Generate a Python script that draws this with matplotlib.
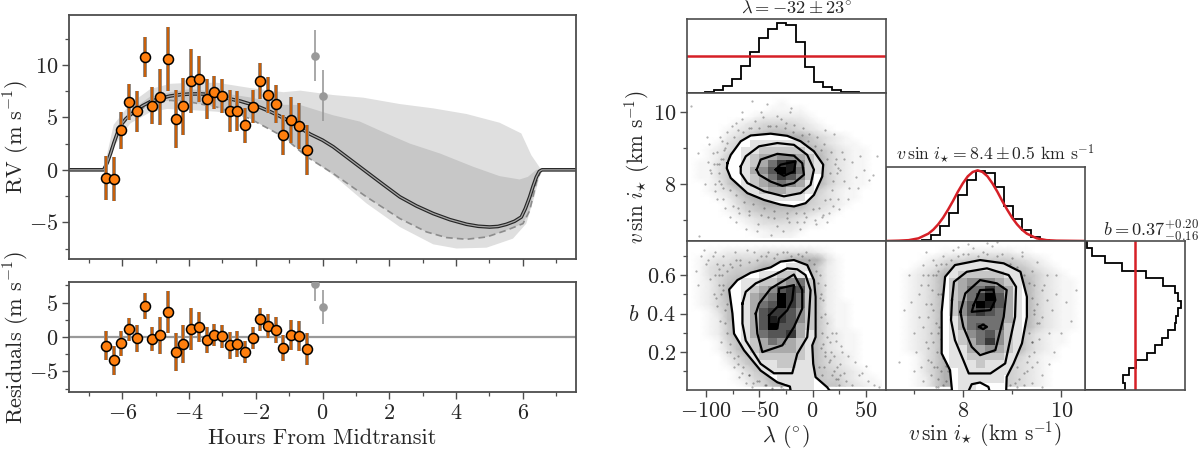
import numpy as np
import matplotlib
matplotlib.use("Agg")
import matplotlib.pyplot as plt
from matplotlib.patches import Polygon
from matplotlib.ticker import MultipleLocator

plt.rcParams['font.family'] = ['cmr10', 'DejaVu Sans']
plt.rcParams['mathtext.fontset'] = 'cm'
plt.rcParams['axes.formatter.use_mathtext'] = True
plt.rcParams['axes.unicode_minus'] = True

# RV data
hours = [-6.49,-6.26,-6.03,-5.79,-5.56,-5.32,-5.10,-4.88,-4.64,-4.40,-4.17,-3.93,-3.70,-3.47,-3.24,-3.01,-2.78,-2.55,-2.32,-2.09,-1.86,-1.63,-1.39,-1.17,-0.94,-0.70,-0.47]
rv = [-0.80,-0.89,3.76,6.46,5.60,10.73,6.11,6.94,10.60,4.87,6.05,8.44,8.69,6.75,7.39,7.04,5.64,5.64,4.24,6.02,8.50,7.13,6.27,3.34,4.75,4.20,1.88]
rv_err = [2.1,2.1,1.8,1.7,1.95,1.9,1.75,2.7,3.05,2.75,2.75,3.05,2.2,1.9,1.6,1.65,2.0,1.9,1.65,1.6,1.7,1.75,1.85,1.9,2.2,2.2,2.35]
resid = [-1.25,-3.37,-0.91,1.10,-0.20,4.57,-0.34,0.24,3.70,-2.20,-1.06,1.20,1.49,-0.38,0.29,0.10,-1.20,-1.00,-2.20,-0.20,2.55,1.59,1.00,-1.60,0.29,0.14,-1.78]
gray_hours = [-0.23, 0.0]
gray_rv = [10.89, 7.07]
gray_err = [2.45, 2.45]
gray_resid = [7.64, 4.37]

model_x = [-7.6,-6.56,-6.45,-6.35,-6.25,-6.15,-6.05,-5.9,-5.76,-5.6,-5.4,-5.16,-4.86,-4.56,-4.26,-3.96,-3.66,-3.36,-3.06,-2.76,-2.46,-2.17,-1.87,-1.57,-1.27,-0.97,-0.67,-0.37,0,0.32,0.82,1.32,1.82,2.32,2.82,3.32,3.82,4.32,4.67,5.01,5.26,5.51,5.76,5.96,6.08,6.21,6.31,6.41,6.5,6.58,7.6]
model_y = [0,0,0.7,1.6,2.6,3.5,4.25,4.85,5.25,5.65,6.1,6.5,6.82,7.04,7.17,7.23,7.24,7.17,7.0,6.75,6.55,6.27,5.95,5.55,5.1,4.6,4.0,3.4,2.83,2.2,1.0,-0.2,-1.4,-2.58,-3.45,-4.17,-4.75,-5.19,-5.38,-5.45,-5.4,-5.2,-4.9,-4.5,-3.7,-2.6,-1.6,-0.7,-0.15,0,0]

light_up_x = [-6.56,-6.26,-5.76,-5.16,-4.56,-3.96,-3.16,-2.17,-1.17,-0.67,0.32,1.22,2.32,3.32,4.32,5.31,5.96,6.26,6.56]
light_up_y = [0,4.3,6.3,7.7,8.2,8.3,8.3,7.8,7.4,7.55,7.13,6.88,6.27,5.86,5.32,4.49,3.47,1.4,0]
light_lo_x = [6.56,6.35,6.11,5.71,4.92,4.02,3.32,2.32,1.32,0.32,-0.47,-1.17,-2.17,-3.16,-3.96,-4.66,-5.16,-5.76,-6.26,-6.56]
light_lo_y = [0,-2.6,-5.13,-6.56,-7.42,-7.5,-7.1,-5.45,-3.2,-0.5,1.3,3.63,5.06,5.54,5.7,5.8,5.5,4.43,2.2,0]
dark_up_x = [-6.56,-6.11,-5.76,-5.16,-4.56,-3.96,-3.16,-2.17,-1.17,-0.67,0.32,1.12,1.82,2.62,3.52,4.52,5.31,5.91,6.16,6.41,6.56]
dark_up_y = [0,4.2,5.6,7.0,7.4,7.7,7.4,6.9,6.2,6.18,5.2,4.6,3.6,2.5,1.56,0.29,-0.6,-0.92,-0.67,0,0]
dashed_x = [6.56,6.41,6.21,6.01,5.51,4.92,4.32,3.72,3.12,2.32,1.32,0.32,-0.47,-1.17,-2.17,-3.16,-3.96,-4.56,-5.16,-5.76,-6.11,-6.56]
dashed_y = [0,-1.2,-3.9,-5.13,-5.77,-6.4,-6.62,-6.46,-5.92,-4.65,-2.58,-0.35,1.24,3.15,4.87,5.98,6.46,6.62,6.3,5.2,3.95,0]

# posterior histograms (heights read in picture units)
lam_hist = [0,1,3,8,21,43,81,124,165,193,212,205,154,77,32,17,9,4,2,1,1,0]
vsini_hist = [0,0,0,0,4,17,44,84,138,182,210,204,162,105,66,34,12,4,1,0,0,0]
b_hist_top_down = [6,21,59,112,182,232,269,277,286,277,271,269,247,229,209,184,152,132,114,120]
lam_prior = 111
b_prior = 150
prior_x = [6.44,6.7,6.9,7.1,7.3,7.4,7.5,7.6,7.7,7.8,7.9,8.0,8.1,8.2,8.3,8.4,8.5,8.6,8.7,8.8,8.9,9.0,9.1,9.2,9.3,9.5,9.7,9.9,10.48]
prior_y = [0,1,2.5,8,22,34,50,70,94,120,148,173,194,207,212,207,194,173,148,120,94,70,50,34,22,8,2.5,1,0]

lam_lim = (-118, 69)
vsini_ylim = (6.42, 10.53)
vsini_xlim = (6.44, 10.48)
b_lim = (0.003, 0.777)

# 2D histogram cells, digit = darkness, rows from top to bottom
lam_v_cells = [
"0","0","0","0","0","0","0",
"0000000111111",
"00000011222221",
"000000123344321",
"000000123578421",
"000000134698521",
"00000012357642",
"00000012345431",
"00000011233221",
"0000000111111",
"0","0","0","0","0","0"]
lam_v_halo = [
"0000000000000000000000",
"0000000000100000000000",
"0000000001111000000000",
"0000000122222100000000",
"0000012344443210000000",
"0000123456654321000000",
"0000235688888643210000",
"0001346888888653211000",
"0012358888888865321100",
"0012588888888885321100",
"0113588888888885321100",
"0113588888888885321100",
"0113588888888885321100",
"0012588888888885321100",
"0012358888888853211000",
"0001246888888643211000",
"0000135688888543210000",
"0000124566665432100000",
"0000012345543211000000",
"0000001233332110000000",
"0000000112221000000000",
"0000000011110000000000"]
lam_b_cells = [
"0","0","0",
"000000000001110",
"00000000112210",
"00000011223452",
"00000012346762",
"00000013459752",
"00000013569752",
"00000013677642",
"00000013687642",
"00000013696632",
"00000013566731",
"00000012354321",
"00000012333321",
"00000011222221",
"00000001112211",
"00000000111111",
"00000000001111",
"00000000000111"]
lam_b_halo = [
"0000000000000000000000",
"0011222233333321000000",
"0123344455688883100000",
"0134455688888852100000",
"0134566888888852100000",
"0124678888888852100000",
"0124788888888862100000",
"0124788888888862100000",
"0124688888888862110000",
"0013688888888862110000",
"0012688888888863110000",
"0012588888888863110000",
"0012588888888863211000",
"0001468888888863211000",
"0001368888888863211000",
"0000246888888864321000",
"0000135788888864321000",
"0000013568888865432100",
"0000012458888865532110",
"0000001346888886643211"]
v_b_cells = [
"0","0",
"000000001111100",
"000000111111111",
"000000012222211",
"000000023444321",
"000000023557531",
"000000023579631",
"000000024698631",
"000000024676531",
"000000013555531",
"000000013565521",
"000000012456421",
"000000012357421",
"000000011334321",
"000000011222211",
"000000011121111",
"000000001111110",
"000000001111100",
"000000001100000"]
v_b_halo = [
"0000000000000000000000",
"0000001112222211000000",
"0000123445555543210000",
"0001235688888865321000",
"0012358888888886532100",
"0012358888888888532110",
"0012358888888888532110",
"0012358888888888532110",
"0012358888888888532110",
"0012358888888888532110",
"0012358888888888532110",
"0012358888888888532110",
"0012358888888885321100",
"0012358888888885321100",
"0012358888888885321000",
"0001358888888853211000",
"0001358888888643210000",
"0001358888888543210000",
"0001258888888543210000",
"0001258888888543210000"]

# contours, outer to inner
lv_outer_x = [-80,-76.9,-67.5,-58.1,-39.4,-23.8,-11.3,1.3,10,9.1,1.3,-6.6,-17.5,-30,-45.6,-61.3,-76.9,-80.6]
lv_outer_y = [8.58,8.81,9.19,9.35,9.40,9.34,9.19,8.91,8.54,8.21,7.70,7.47,7.38,7.43,7.56,7.75,8.17,8.44]
lv_mid_x = [-67.5,-62.8,-50.3,-33.1,-17.5,-5,1.3,-1.9,-11.3,-26.9,-45.6,-61.3,-67.5]
lv_mid_y = [8.49,8.77,9.05,9.14,9.09,8.81,8.40,7.98,7.75,7.66,7.80,8.03,8.30]
lv_in_x = [-52.5,-48.8,-33.1,-17.5,-9.7,-8.1,-17.5,-28.4,-39.4,-50.3]
lv_in_y = [8.40,8.68,8.84,8.79,8.58,8.26,8.03,7.95,8.07,8.26]
lv_core_x = [-34.7,-30,-15.9,-17.5,-26.9,-31.6]
lv_core_y = [8.40,8.54,8.63,8.35,8.23,8.31]

lb_outer_x = [16,13.8,2.8,0.6,-0.3,2.8,2.8,1.3,-5,-17.5,-30,-39.4,-58.1,-70.6,-78.4,-75.3,-73.8,-64.4,-48.8,-33.1,-21.3,-20.6]
lb_outer_y = [0,0.017,0.07,0.139,0.235,0.278,0.487,0.574,0.652,0.678,0.67,0.64,0.612,0.574,0.525,0.40,0.296,0.209,0.104,0.043,0.021,0]
lb_mid_x = [-65.9,-62.8,-53.4,-36.3,-23.8,-14.4,-6.6,-1.9,-3.4,-5,-14.4,-19.1,-36.3,-48.8,-62.8,-65.9]
lb_mid_y = [0.452,0.513,0.557,0.60,0.635,0.63,0.60,0.522,0.383,0.278,0.191,0.09,0.09,0.139,0.26,0.348]
lb_in_x = [-53.4,-50.3,-39.4,-17.5,-9.7,-9.7,-17.5,-28.4,-47.2,-51.9]
lb_in_y = [0.40,0.452,0.53,0.603,0.522,0.426,0.33,0.235,0.2,0.296]
lb_core_x = [-40.9,-31.6,-31.6,-17.5,-19.1,-23.8,-31.6,-33.1,-40.9]
lb_core_y = [0.39,0.443,0.53,0.548,0.47,0.417,0.374,0.322,0.322]

vb_outer_x = [7.78,7.74,7.57,7.57,7.64,7.84,8.35,8.83,9.17,9.30,9.30,9.2,9.03,8.89,8.88]
vb_outer_y = [0,0.106,0.193,0.409,0.591,0.652,0.678,0.661,0.617,0.487,0.383,0.245,0.141,0.071,0]
vb_mid_x = [7.78,7.82,8.08,8.49,8.93,9.08,9.06,8.93,8.86,8.56,8.12,8.01,7.84,7.76]
vb_mid_y = [0.47,0.565,0.617,0.635,0.60,0.539,0.383,0.227,0.141,0.089,0.089,0.158,0.262,0.366]
vb_island_x = [8.12,8.18,8.35,8.52,8.54]
vb_island_y = [0,0.033,0.042,0.019,0]
vb_in_x = [7.95,8.05,8.35,8.69,8.89,8.83,8.66,8.35,8.18,8.01]
vb_in_y = [0.409,0.505,0.574,0.557,0.522,0.383,0.21,0.184,0.227,0.331]
vb_core_x = [8.22,8.35,8.62,8.66,8.56,8.18]
vb_core_y = [0.444,0.522,0.525,0.47,0.418,0.409]
vb_core2_x = [8.33,8.41,8.49,8.41]
vb_core2_y = [0.331,0.343,0.331,0.319]

# posterior samples that can be told apart in the picture
lv_dots_x = [-114,-57,-43,-21,-108,-99,61,45,48,53,-107,-96,-90,-88,-92,-85,-97,-93,-84,-86,-80,-76,-72,-66,-60,-54,-47,-40,-33,-25,-17,-9,-3,4,11,17,22,26,30,34,37,41,28,24,19,15,9,2,-6,-15,-24,-33,-42,-51,-60,-69,-75,-82,-90,-95,-78,-72,-63,-52,-39,-28,-12,3,14,25,33,43,57,-101,-30,-20,-48,-66,12,20]
lv_dots_y = [10.16,10.3,10.23,10.0,8.86,9.32,8.77,8.77,8.4,8.12,6.55,8.4,8.9,8.1,7.8,9.2,9.1,8.55,7.6,8.7,9.45,9.6,9.7,9.8,9.55,9.75,9.85,9.6,9.9,9.7,9.65,9.55,9.4,9.3,9.1,8.9,8.7,8.4,8.1,7.9,8.6,8.2,8.9,7.6,7.4,7.2,7.1,7.0,7.1,6.95,7.05,6.85,7.1,6.9,7.15,7.2,7.4,7.35,7.6,8.3,7.1,6.95,6.75,6.7,6.6,6.7,6.75,6.9,6.95,7.3,7.6,7.9,8.25,8.0,9.8,10.1,10.0,10.0,9.5,9.4]
lv_ring_x = [-88,-84,-86,-82,-90,-83,-87,-80,-74,-70,-65,-58,-50,-42,-34,-26,-18,-10,-4,2,8,14,16,19,21,23,18,16,12,6,0,-8,-16,-24,-36,-46,-56,-64,-72,-78,-84,-88,-92,-70,-60,-48,-36,-22,-8,10,24,30,-94,-98]
lv_ring_y = [8.3,8.7,8.0,9.0,8.55,8.95,9.3,9.15,9.3,9.5,9.45,9.55,9.55,9.6,9.6,9.55,9.45,9.35,9.2,9.05,8.95,8.7,8.3,8.1,8.55,8.3,7.85,7.6,7.55,7.35,7.3,7.2,7.2,7.2,7.25,7.35,7.45,7.5,7.7,7.85,7.9,8.55,8.0,7.35,7.25,7.15,7.05,6.95,6.95,7.15,8.45,8.7,8.85,8.6]
lb_dots_x = [-110,-105,-100,-96,-92,-88,-84,-82,-98,-102,-93,-87,-85,-80,-78,-70,-65,-60,-52,-45,-38,-28,-20,-10,-3,3,7,10,12,14,18,22,27,33,40,46,52,58,62,20,26,31,37,28,22,16,12,8,6,-78,-84,-73,-68,-62,-55,-48,-42,-33,-90,-86,-80,-74,-69,-63,-57,-92,-108,8,12,16,24,30,44,50]
lb_dots_y = [0.62,0.70,0.66,0.58,0.72,0.63,0.52,0.42,0.68,0.73,0.50,0.36,0.60,0.30,0.24,0.18,0.12,0.08,0.05,0.03,0.015,0.72,0.70,0.70,0.68,0.62,0.60,0.47,0.40,0.35,0.30,0.26,0.23,0.18,0.15,0.09,0.05,0.03,0.02,0.10,0.14,0.05,0.03,0.2,0.3,0.25,0.18,0.22,0.12,0.66,0.70,0.72,0.68,0.73,0.72,0.70,0.72,0.71,0.44,0.25,0.2,0.12,0.07,0.04,0.02,0.60,0.55,0.5,0.55,0.16,0.06,0.09,0.08,0.13]
lb_ring_x = [-84,-80,-88,-86,-82,-90,-94,-84,-80,-76,-72,-68,-60,-52,-44,-36,-24,-14,-6,1,5,7,8,9,10,12,15,18,22,25,11,14,17,20,23,26,9,8,6,-70,-66,-60,-56,-50,-44,-38,-30,-28,-78,-74,-88,-91]
lb_ring_y = [0.55,0.45,0.6,0.5,0.35,0.66,0.7,0.65,0.62,0.64,0.68,0.65,0.67,0.68,0.70,0.69,0.72,0.71,0.72,0.66,0.56,0.48,0.38,0.3,0.24,0.2,0.15,0.08,0.06,0.03,0.12,0.28,0.2,0.18,0.12,0.08,0.08,0.03,0.02,0.14,0.09,0.08,0.04,0.05,0.03,0.01,0.02,0.01,0.2,0.17,0.55,0.48]
vb_dots_x = [6.8,6.9,7.0,7.1,7.2,7.3,7.4,7.45,7.05,6.95,7.25,7.15,7.35,7.5,7.3,7.2,7.1,7.0,7.4,7.35,7.25,7.45,7.55,7.6,7.8,8.0,8.2,8.4,8.6,8.8,9.0,9.2,9.4,9.45,9.5,9.55,9.6,9.7,9.8,9.9,10.0,10.1,10.2,9.4,9.5,9.6,9.75,9.85,9.4,9.3,9.25,9.5,9.65,9.75,9.9,9.2,9.1,9.35,9.45,9.6,9.7,7.6,7.5,7.4,7.3,7.55,7.65,6.7,10.3,8.5,8.1,7.9,8.7]
vb_dots_y = [0.42,0.6,0.3,0.5,0.65,0.55,0.68,0.35,0.2,0.46,0.25,0.12,0.45,0.62,0.16,0.05,0.38,0.1,0.25,0.08,0.72,0.02,0.1,0.7,0.73,0.71,0.74,0.72,0.75,0.71,0.69,0.7,0.62,0.55,0.45,0.35,0.52,0.6,0.42,0.5,0.3,0.46,0.36,0.25,0.15,0.08,0.3,0.2,0.04,0.1,0.03,0.67,0.55,0.14,0.6,0.72,0.02,0.18,0.4,0.02,0.47,0.03,0.3,0.6,0.38,0.5,0.13,0.15,0.52,0.765,0.76,0.745,0.77]
vb_ring_x = [7.45,7.5,7.4,7.35,7.48,7.52,7.3,7.42,7.5,7.45,7.38,7.55,7.48,7.5,7.6,7.65,7.7,7.55,7.65,7.75,7.9,8.1,8.3,8.5,8.7,8.95,9.1,9.25,9.35,9.4,9.45,9.35,9.4,9.5,9.45,9.4,9.3,9.25,9.15,9.1,9.05,8.95,9.55,9.6,7.2,7.25,7.3,7.15,7.35,7.2]
vb_ring_y = [0.6,0.5,0.42,0.3,0.2,0.33,0.6,0.12,0.06,0.65,0.52,0.27,0.12,0.02,0.17,0.05,0.1,0.66,0.66,0.68,0.7,0.71,0.7,0.71,0.7,0.66,0.64,0.6,0.56,0.48,0.42,0.3,0.25,0.35,0.2,0.12,0.15,0.09,0.06,0.12,0.04,0.03,0.27,0.38,0.33,0.45,0.22,0.55,0.15,0.6]

W, H = 1200, 449
TEXT = '0.15'
fig = plt.figure(figsize=(W/100, H/100), dpi=100)


def px_axes(left, top, right, bottom):
    return fig.add_axes([left/W, 1-bottom/H, (right-left)/W, (bottom-top)/H])


def px_text(x, y, s, rotation=0, fontsize=16):
    fig.text(x/W, 1-y/H, s, rotation=rotation, fontsize=fontsize, color=TEXT, ha='center', va='center')


def rows_to_array(rows, ncols):
    # top row first in the list, pcolormesh wants bottom first
    return np.array([[int(c) for c in r.ljust(ncols, "0")] for r in rows[::-1]], dtype=float)


def style_ax(ax, color='0.3', lw=1.2):
    for s in ax.spines.values():
        s.set_color(color)
        s.set_linewidth(lw)
    ax.tick_params(which='both', direction='out', color='0.3', top=False, right=False)
    ax.tick_params(which='major', length=5, width=1.0, labelsize=16, pad=3, labelcolor=TEXT)
    ax.tick_params(which='minor', length=3, width=0.9)


def pair_panel(ax, xlim, ylim, halo, cells, dots_x, dots_y, outer_x, outer_y, outer_closed, lines):
    xe = np.linspace(xlim[0], xlim[1], 23)
    ne = len(cells)
    ye = np.linspace(ylim[0], ylim[1], ne + 1)
    xc = 0.5*(xe[1:]+xe[:-1])
    yc = 0.5*(ye[1:]+ye[:-1])
    ax.pcolormesh(xc, yc, rows_to_array(halo, 22)/26, cmap='gray_r', vmin=0, vmax=1,
                  shading='gouraud', zorder=1, rasterized=True)
    ax.scatter(dots_x, dots_y, s=2.6, c='k', alpha=0.3, linewidths=0, zorder=2)
    poly = Polygon(np.column_stack([outer_x, outer_y]), closed=True, fc='white', ec='none', zorder=3)
    ax.add_patch(poly)
    mesh = ax.pcolormesh(xe, ye, rows_to_array(cells, 22), cmap='gray_r', vmin=0, vmax=9, zorder=4)
    mesh.set_clip_path(poly)
    if outer_closed:
        ax.plot(list(outer_x)+[outer_x[0]], list(outer_y)+[outer_y[0]], color='k', lw=1.6, zorder=5)
    else:
        ax.plot(outer_x, outer_y, color='k', lw=1.6, zorder=5)
    for lx, ly, closed in lines:
        if closed:
            lx = list(lx)+[lx[0]]
            ly = list(ly)+[ly[0]]
        ax.plot(lx, ly, color='k', lw=1.6, zorder=5)
    ax.set_xlim(xlim)
    ax.set_ylim(ylim)


# RV panel
ax_rv = px_axes(69, 15, 576, 259)
ax_rv.fill(light_up_x+light_lo_x, light_up_y+light_lo_y, color='0.875', lw=0)
ax_rv.fill(dark_up_x+dashed_x, dark_up_y+dashed_y, color='0.78', lw=0)
ax_rv.plot(dashed_x, dashed_y, color='0.55', lw=1.2, ls=(0, (4, 2.5)))
ax_rv.plot(model_x, model_y, color='0.15', lw=2.6)
ax_rv.plot(model_x, model_y, color='0.65', lw=0.9)
ax_rv.errorbar(gray_hours, gray_rv, yerr=gray_err, fmt='o', color='0.6', ms=5.2, elinewidth=1.2, zorder=3)
ax_rv.errorbar(hours, rv, yerr=rv_err, fmt='none', ecolor='0.55', elinewidth=2.8, zorder=4)
ax_rv.errorbar(hours, rv, yerr=rv_err, fmt='o', color='#ff7f0e', ecolor='#c75f0a', elinewidth=1.6,
               mec='k', mew=1.1, ms=7.2, zorder=5)
ax_rv.set_xlim(-7.6, 7.6)
ax_rv.set_ylim(-8.5, 14.76)
style_ax(ax_rv, lw=1.3)
ax_rv.xaxis.set_major_locator(MultipleLocator(2))
ax_rv.xaxis.set_minor_locator(MultipleLocator(1))
ax_rv.yaxis.set_major_locator(MultipleLocator(5))
ax_rv.yaxis.set_minor_locator(MultipleLocator(2.5))
ax_rv.tick_params(axis='x', which='both', labelbottom=False)
px_text(17, 137, r"RV (m s$^{-1}$)", rotation=90)

# residuals panel
ax_res = px_axes(69, 282, 576, 392)
ax_res.axhline(0, color='0.6', lw=1.6, zorder=1)
ax_res.errorbar(gray_hours, gray_resid, yerr=gray_err, fmt='o', color='0.6', ms=5.2, elinewidth=1.2, zorder=3)
ax_res.errorbar(hours, resid, yerr=rv_err, fmt='none', ecolor='0.55', elinewidth=2.8, zorder=4)
ax_res.errorbar(hours, resid, yerr=rv_err, fmt='o', color='#ff7f0e', ecolor='#c75f0a', elinewidth=1.6,
                mec='k', mew=1.1, ms=7.2, zorder=5)
ax_res.set_xlim(-7.6, 7.6)
ax_res.set_ylim(-8, 8)
style_ax(ax_res, lw=1.3)
ax_res.xaxis.set_major_locator(MultipleLocator(2))
ax_res.xaxis.set_minor_locator(MultipleLocator(1))
ax_res.yaxis.set_major_locator(MultipleLocator(5))
ax_res.yaxis.set_minor_locator(MultipleLocator(2.5))
px_text(322, 438, "Hours From Midtransit")
px_text(17, 337, r"Residuals (m s$^{-1}$)", rotation=90)

# corner: lambda histogram
ax_h1 = px_axes(687, 19, 886, 93)
e1 = np.linspace(lam_lim[0], lam_lim[1], len(lam_hist)+1)
ax_h1.stairs(lam_hist, e1, color='k', lw=1.3)
ax_h1.axhline(lam_prior, color='#d62027', lw=1.8)
ax_h1.set_xlim(lam_lim)
ax_h1.set_ylim(0, 223)
ax_h1.set_xticks([])
ax_h1.set_yticks([])
style_ax(ax_h1)
px_text(797, 8, r"$\lambda = -32 \pm 23^{\circ}$", fontsize=13.2)

# corner: vsini histogram
ax_h2 = px_axes(886, 167, 1085, 241)
e2 = np.linspace(vsini_xlim[0], vsini_xlim[1], len(vsini_hist)+1)
ax_h2.stairs(vsini_hist, e2, color='k', lw=1.3)
ax_h2.plot(prior_x, prior_y, color='#d62027', lw=1.8)
ax_h2.set_xlim(vsini_xlim)
ax_h2.set_ylim(0, 222)
ax_h2.set_xticks([])
ax_h2.set_yticks([])
style_ax(ax_h2)
px_text(995, 154, r"$v\,\sin\,i_{\star} = 8.4 \pm 0.5$ km s$^{-1}$", fontsize=12.7)

# corner: b histogram, sideways
ax_h3 = px_axes(1085, 241, 1185, 390)
e3 = np.linspace(b_lim[1], b_lim[0], len(b_hist_top_down)+1)
ax_h3.stairs(b_hist_top_down, e3, orientation='horizontal', color='k', lw=1.3)
ax_h3.axvline(b_prior, color='#d62027', lw=1.8)
ax_h3.set_ylim(b_lim)
ax_h3.set_xlim(0, 299)
ax_h3.set_xticks([])
ax_h3.set_yticks([])
style_ax(ax_h3)
px_text(1151, 230, r"$b = 0.37^{+0.20}_{-0.16}$", fontsize=13.2)

# corner: lambda vs vsini
ax_lv = px_axes(687, 93, 886, 241)
pair_panel(ax_lv, lam_lim, vsini_ylim, lam_v_halo, lam_v_cells, lv_dots_x+lv_ring_x, lv_dots_y+lv_ring_y,
           lv_outer_x, lv_outer_y, True,
           [(lv_mid_x, lv_mid_y, True), (lv_in_x, lv_in_y, True), (lv_core_x, lv_core_y, True)])
style_ax(ax_lv)
ax_lv.set_xticks([])
ax_lv.yaxis.set_major_locator(MultipleLocator(2))
ax_lv.yaxis.set_minor_locator(MultipleLocator(1))
px_text(637, 167, r"$v\,\sin\,i_{\star}$ (km s$^{-1}$)", rotation=90, fontsize=15.3)

# corner: lambda vs b
ax_lb = px_axes(687, 241, 886, 390)
pair_panel(ax_lb, lam_lim, b_lim, lam_b_halo, lam_b_cells, lb_dots_x+lb_ring_x, lb_dots_y+lb_ring_y,
           lb_outer_x, lb_outer_y, False,
           [(lb_mid_x, lb_mid_y, True), (lb_in_x, lb_in_y, True), (lb_core_x, lb_core_y, True)])
style_ax(ax_lb)
ax_lb.xaxis.set_major_locator(MultipleLocator(50))
ax_lb.xaxis.set_minor_locator(MultipleLocator(25))
ax_lb.yaxis.set_major_locator(MultipleLocator(0.2))
ax_lb.yaxis.set_minor_locator(MultipleLocator(0.1))
px_text(786, 436, r"$\lambda$ ($^{\circ}$)")
px_text(634, 315, r"$b$")

# corner: vsini vs b
ax_vb = px_axes(886, 241, 1085, 390)
pair_panel(ax_vb, vsini_xlim, b_lim, v_b_halo, v_b_cells, vb_dots_x+vb_ring_x, vb_dots_y+vb_ring_y,
           vb_outer_x, vb_outer_y, False,
           [(vb_mid_x, vb_mid_y, True), (vb_island_x, vb_island_y, False),
            (vb_in_x, vb_in_y, True), (vb_core_x, vb_core_y, True), (vb_core2_x, vb_core2_y, True)])
style_ax(ax_vb)
ax_vb.set_yticks([])
ax_vb.xaxis.set_major_locator(MultipleLocator(2))
ax_vb.xaxis.set_minor_locator(MultipleLocator(1))
px_text(985, 434, r"$v\,\sin\,i_{\star}$ (km s$^{-1}$)", fontsize=15.3)

fig.savefig("out.png", dpi=100)
